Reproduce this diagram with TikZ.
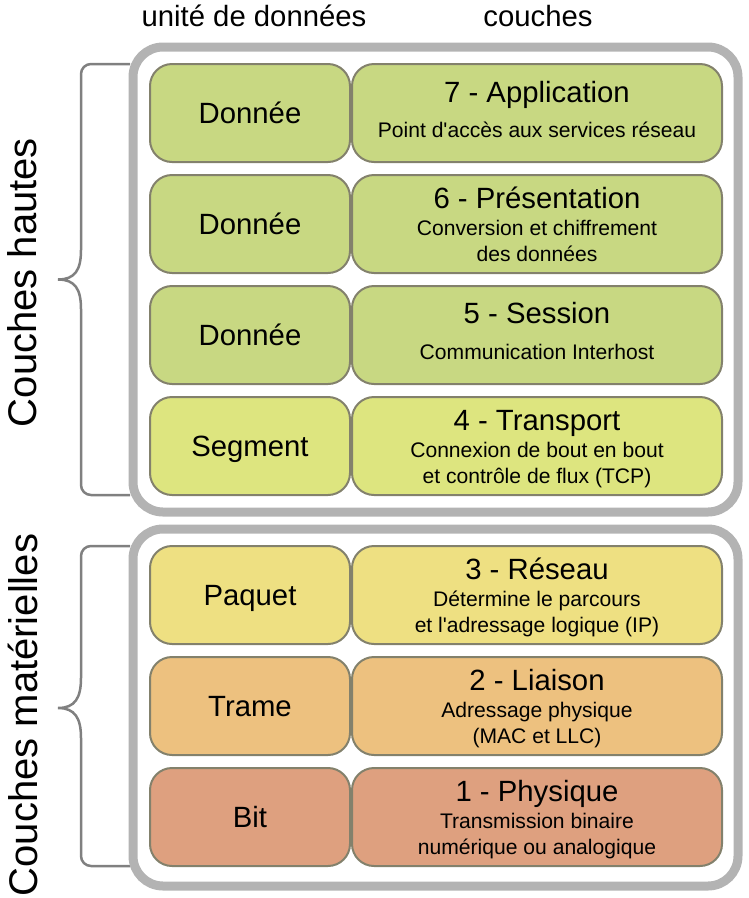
\documentclass[tikz,border=0pt]{standalone}
\usepackage{fontspec}
\setmainfont{Liberation Sans}[Ligatures=TeXOff]
\definecolor{cgreen}{HTML}{C8D882}
\definecolor{cseg}{HTML}{DDE57F}
\definecolor{cpaq}{HTML}{EEE082}
\definecolor{ctrame}{HTML}{EDC17F}
\definecolor{cbit}{HTML}{DEA07F}
\definecolor{boxline}{HTML}{83816C}
\definecolor{framegray}{HTML}{B3B3B3}
\definecolor{bracegray}{HTML}{808080}
\begin{document}
\begin{tikzpicture}[x=1pt,y=-1pt,
  layer/.style={draw=boxline, line width=2pt, rounded corners=22pt, minimum height=98pt, inner sep=0pt},
  unitbox/.style={layer, minimum width=200pt},
  layerbox/.style={layer, minimum width=370pt},
  big/.style={font=\fontsize{29.3}{33}\selectfont, anchor=base, inner sep=0pt},
  small/.style={font=\fontsize{21.1}{25}\selectfont, anchor=base, inner sep=0pt},
  head/.style={font=\fontsize{29.3}{33}\selectfont, anchor=base, inner sep=0pt},
  vert/.style={font=\fontsize{40}{45}\selectfont, rotate=90, inner sep=0pt},
  framebox/.style={draw=framegray, line width=9pt, rounded corners=30pt, inner sep=0pt},
  bracestyle/.style={draw=bracegray, line width=2.5pt}
]
\useasboundingbox (0,0) rectangle (748,898);

% braces
\draw[bracestyle] (130,64) -- (91,64) .. controls (85.5,64) and (81,68.5) .. (81,74)
  -- (81,250) .. controls (81,270) and (75,279.5) .. (58,279.5)
  .. controls (75,279.5) and (81,289) .. (81,309)
  -- (81,485) .. controls (81,490.5) and (85.5,495) .. (91,495) -- (130,495);
\draw[bracestyle] (130,546) -- (91,546) .. controls (85.5,546) and (81,550.5) .. (81,556)
  -- (81,678) .. controls (81,698) and (75,708) .. (58,708)
  .. controls (75,708) and (81,718) .. (81,738)
  -- (81,856) .. controls (81,861.5) and (85.5,866) .. (91,866) -- (130,866);

% frames
\node[framebox, minimum width=605pt, minimum height=465pt] (topframe) at (435.5,279.5) {};
\node[framebox, minimum width=605pt, minimum height=357pt] (botframe) at (435.5,707.5) {};

% headers
\node[head] (hunit) at (254,26) {unité de données};
\node[head] (hcouch) at (538,26) {couches};

% side labels
\node[vert] (vhaut) at (22.5,282.5) {Couches hautes};
\node[vert] (vmat) at (22.5,715) {Couches matérielles};

% row 7
\node[unitbox, fill=cgreen] (u7) at (250,113) {};
\node[layerbox, fill=cgreen] (l7) at (537,113) {};
\node[big] (u7t) at (250,123) {Donnée};
\node[big] (l7t) at (537,102) {7 - Application};
\node[small] (l7s) at (537,137) {Point d'accès aux services réseau};

% row 6
\node[unitbox, fill=cgreen] (u6) at (250,224) {};
\node[layerbox, fill=cgreen] (l6) at (537,224) {};
\node[big] (u6t) at (250,234) {Donnée};
\node[big] (l6t) at (537,208) {6 - Présentation};
\node[small] (l6s) at (537,235) {Conversion et chiffrement};
\node[small] (l6r) at (537,261) {des données};

% row 5
\node[unitbox, fill=cgreen] (u5) at (250,335) {};
\node[layerbox, fill=cgreen] (l5) at (537,335) {};
\node[big] (u5t) at (250,345) {Donnée};
\node[big] (l5t) at (537,323) {5 - Session};
\node[small] (l5s) at (537,359) {Communication Interhost};

% row 4
\node[unitbox, fill=cseg] (u4) at (250,446) {};
\node[layerbox, fill=cseg] (l4) at (537,446) {};
\node[big] (u4t) at (250,456) {Segment};
\node[big] (l4t) at (537,430) {4 - Transport};
\node[small] (l4s) at (537,457) {Connexion de bout en bout};
\node[small] (l4r) at (537,483) {et contrôle de flux (TCP)};

% row 3
\node[unitbox, fill=cpaq] (u3) at (250,595) {};
\node[layerbox, fill=cpaq] (l3) at (537,595) {};
\node[big] (u3t) at (250,605) {Paquet};
\node[big] (l3t) at (537,579) {3 - Réseau};
\node[small] (l3s) at (537,606) {Détermine le parcours};
\node[small] (l3r) at (537,632) {et l'adressage logique (IP)};

% row 2
\node[unitbox, fill=ctrame] (u2) at (250,706) {};
\node[layerbox, fill=ctrame] (l2) at (537,706) {};
\node[big] (u2t) at (250,716) {Trame};
\node[big] (l2t) at (537,690) {2 - Liaison};
\node[small] (l2s) at (537,717) {Adressage physique};
\node[small] (l2r) at (537,743) {(MAC et LLC)};

% row 1
\node[unitbox, fill=cbit] (u1) at (250,817) {};
\node[layerbox, fill=cbit] (l1) at (537,817) {};
\node[big] (u1t) at (250,827) {Bit};
\node[big] (l1t) at (537,801) {1 - Physique};
\node[small] (l1s) at (537,828) {Transmission binaire};
\node[small] (l1r) at (537,854) {numérique ou analogique};
\end{tikzpicture}
\end{document}
